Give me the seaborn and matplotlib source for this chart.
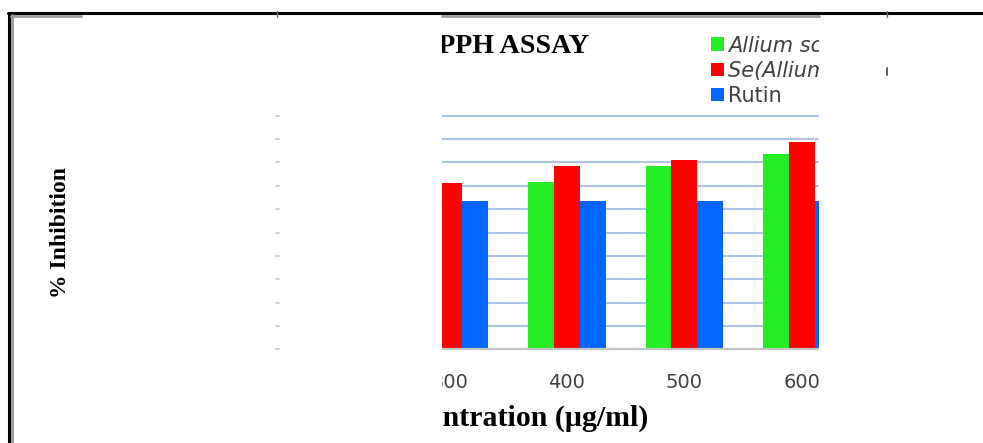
import numpy as np
import pandas as pd
import matplotlib
matplotlib.use("Agg")
import matplotlib.pyplot as plt
import seaborn as sns
from matplotlib.transforms import Bbox, TransformedBbox, blended_transform_factory
from matplotlib.lines import Line2D

# DPPH radical scavenging (% inhibition) per concentration
concentrations = ["300", "400", "500", "600"]
allium = [np.nan, 71.5, 78.5, 83.6]
se_allium = [71.1, 78.6, 81.0, 88.9]
rutin = [63.5, 63.5, 63.5, 63.5]
series = ["Allium schoenoprasum", "Se(Allium schoenoprasum)", "Rutin"]
colors = ["#22ee22", "#ff0000", "#0066ff"]

df = pd.DataFrame({
    "Concentration": concentrations * 3,
    "Inhibition": allium + se_allium + rutin,
    "Sample": np.repeat(series, len(concentrations)),
})

sns.set_theme(style="white")
plt.rcParams["font.family"] = ["DejaVu Sans"]

W, H = 983, 443
fig = plt.figure(figsize=(W / 100, H / 100), dpi=100)
fig.patch.set_facecolor("white")


def fx(px):
    return px / W


def fy(py):
    return 1 - py / H


SERIF = ["Liberation Serif", "DejaVu Serif"]

ax = fig.add_axes([fx(390.8), fy(349.3), fx(860.4) - fx(390.8), fy(115.7) - fy(349.3)])
ax.set_facecolor("none")
sns.barplot(data=df, x="Concentration", y="Inhibition", hue="Sample",
            order=concentrations, hue_order=series, palette=colors,
            width=0.66, saturation=1, errorbar=None, linewidth=0, ax=ax)

ax.set_xlim(-0.5, 3.5)
ax.set_ylim(0, 100)
ax.set_yticks(np.arange(0, 101, 10))
ax.yaxis.grid(True, color="#adc3ea", lw=1.5)
ax.set_axisbelow(True)
for s in ["left", "right", "top"]:
    ax.spines[s].set_visible(False)
ax.spines["bottom"].set_color("#c4c4c4")
ax.spines["bottom"].set_linewidth(1.6)
ax.tick_params(axis="y", length=0, labelleft=False)
ax.tick_params(axis="x", length=0, pad=17, labelsize=14, labelcolor="#404040")
ax.set_xlabel("")
ax.set_ylabel("")

# legend rebuilt at its own spot
handles, labels = ax.get_legend_handles_labels()
if ax.get_legend() is not None:
    ax.get_legend().remove()
leg = ax.legend(handles, labels, loc="upper left",
                bbox_to_anchor=(fx(711), fy(35.5)), bbox_transform=fig.transFigure,
                frameon=False, fontsize=15, borderpad=0, borderaxespad=0,
                handlelength=0.62, handleheight=0.62, handletextpad=0.22,
                labelspacing=0.25)
for t, st in zip(leg.get_texts(), ["italic", "italic", "normal"]):
    t.set_fontstyle(st)
    t.set_color("#404040")

# visible window of the chart
clip = TransformedBbox(Bbox.from_extents(fx(442), 0, fx(819), fy(16.5)), fig.transFigure)


def clip_to_window(artist):
    artist.set_clip_on(True)
    artist.set_clip_box(clip)


for p in ax.patches:
    clip_to_window(p)
for tick in ax.xaxis.get_major_ticks() + ax.yaxis.get_major_ticks():
    clip_to_window(tick.label1)
    clip_to_window(tick.gridline)
for sp in ax.spines.values():
    clip_to_window(sp)
for t in leg.get_texts():
    clip_to_window(t)
for h in leg.legend_handles:
    clip_to_window(h)

title = fig.text(fx(589), fy(52.7), "DPPH ASSAY", ha="right", va="baseline",
                 family=SERIF, weight="bold", size=20.2, color="black")
clip_to_window(title)
xlab = fig.text(fx(648), fy(426), "Concentration (µg/ml)", ha="right", va="baseline",
                family=SERIF, weight="bold", size=21.5, color="black")
clip_to_window(xlab)

fig.text(fx(61), fy(232), "% Inhibition", rotation=90, ha="center", va="center",
         family=SERIF, weight="bold", size=17, color="black")

# outer frame
fig.add_artist(Line2D([fx(8), fx(983)], [fy(13), fy(13)], color="black", lw=2.2,
                      transform=fig.transFigure))
fig.add_artist(Line2D([fx(9), fx(9)], [fy(13), 0], color="black", lw=2.2,
                      transform=fig.transFigure))
fig.add_artist(Line2D([fx(11.5), fx(11.5)], [fy(14.5), 0], color="#9a9a9a", lw=2.0,
                      transform=fig.transFigure))
fig.add_artist(Line2D([fx(10.5), fx(81)], [fy(15.5), fy(15.5)], color="#9a9a9a", lw=2.0,
                      transform=fig.transFigure))
fig.add_artist(Line2D([fx(442), fx(819)], [fy(15.5), fy(15.5)], color="#9a9a9a", lw=2.0,
                      transform=fig.transFigure))

# small marks along the frame
fig.add_artist(Line2D([fx(277), fx(277)], [fy(11), fy(17)], color="#707070", lw=1.0,
                      transform=fig.transFigure))
fig.add_artist(Line2D([fx(886.5), fx(886.5)], [fy(11), fy(17)], color="#707070", lw=1.0,
                      transform=fig.transFigure))
fig.add_artist(Line2D([fx(886.5), fx(886.5)], [fy(68), fy(75)], color="#404040", lw=1.2,
                      transform=fig.transFigure))

# faint value-axis ticks at the grid heights
blend = blended_transform_factory(fig.transFigure, ax.transData)
for v in np.arange(0, 101, 10):
    fig.add_artist(Line2D([fx(276), fx(278.5)], [v, v], color="#c3cfe6", lw=1.4,
                          transform=blend))

fig.savefig("out.png", dpi=100, facecolor="white")
